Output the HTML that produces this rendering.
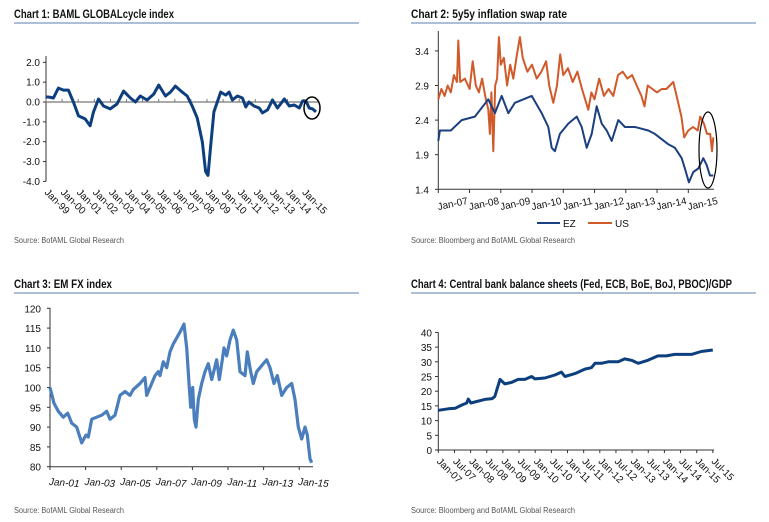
<!DOCTYPE html>
<html><head><meta charset="utf-8"><style>
html,body{margin:0;padding:0;background:#fff}
svg{display:block;font-family:"Liberation Sans",sans-serif}
.t{font-weight:bold;font-size:12px;fill:#111}
.src{font-size:8px;fill:#555}
.tk{font-size:10px;fill:#111}
</style></head><body>
<svg id="s" width="769" height="522" viewBox="0 0 769 522">
<text class="t" x="14" y="18" textLength="160" lengthAdjust="spacingAndGlyphs">Chart 1: BAML GLOBALcycle index</text>
<line x1="14" y1="23" x2="359" y2="23" stroke="#5b7fb0" stroke-width="1"/>
<text class="src" x="14" y="243" textLength="110" lengthAdjust="spacingAndGlyphs">Source: BofAML Global Research</text>
<text class="t" x="411" y="18" textLength="156" lengthAdjust="spacingAndGlyphs">Chart 2: 5y5y inflation swap rate</text>
<line x1="411" y1="23" x2="756" y2="23" stroke="#5b7fb0" stroke-width="1"/>
<text class="src" x="411" y="243" textLength="164" lengthAdjust="spacingAndGlyphs">Source: Bloomberg and BofAML Global Research</text>
<text class="t" x="14" y="288" textLength="98" lengthAdjust="spacingAndGlyphs">Chart 3: EM FX index</text>
<line x1="14" y1="293" x2="359" y2="293" stroke="#5b7fb0" stroke-width="1"/>
<text class="src" x="14" y="513" textLength="110" lengthAdjust="spacingAndGlyphs">Source: BofAML Global Research</text>
<text class="t" x="411" y="288" textLength="321" lengthAdjust="spacingAndGlyphs">Chart 4: Central bank balance sheets (Fed, ECB, BoE, BoJ, PBOC)/GDP</text>
<line x1="411" y1="293" x2="756" y2="293" stroke="#5b7fb0" stroke-width="1"/>
<text class="src" x="411" y="513" textLength="164" lengthAdjust="spacingAndGlyphs">Source: Bloomberg and BofAML Global Research</text>
</svg>
<script>
// Chart 1 data
const c1Years=[1999.0,1999.15,1999.46,1999.77,2000.08,2000.39,2000.70,2001.02,2001.43,2001.74,2001.95,2002.26,2002.57,2002.99,2003.41,2003.82,2004.24,2004.55,2004.86,2005.28,2005.69,2006.00,2006.42,2006.73,2007.04,2007.46,2007.77,2008.08,2008.39,2008.71,2008.91,2009.06,2009.22,2009.43,2009.64,2009.85,2010.16,2010.37,2010.58,2010.89,2011.20,2011.41,2011.61,2011.92,2012.24,2012.45,2012.76,2013.07,2013.38,2013.80,2014.11,2014.42,2014.73,2014.94,2015.15,2015.35,2015.56,2015.77];
const c1Values=[0.25,0.25,0.2,0.7,0.6,0.6,0.0,-0.7,-0.85,-1.2,-0.5,0.15,-0.2,-0.35,-0.1,0.55,0.2,0.0,0.3,0.1,0.4,0.85,0.3,0.5,0.8,0.5,0.3,-0.2,-0.8,-2.0,-3.5,-3.7,-2.3,-0.5,0.0,0.5,0.35,0.5,0.1,0.3,0.2,-0.25,0.0,-0.2,-0.3,-0.55,-0.4,0.1,-0.3,0.15,-0.2,-0.15,-0.3,0.05,0.05,-0.3,-0.35,-0.5];
const c1YTicks=[2,1,0,-1,-2,-3,-4];
const c1YLabels=["2.0","1.0","0.0","-1.0","-2.0","-3.0","-4.0"];
const c1XLabels=["Jan-99","Jan-00","Jan-01","Jan-02","Jan-03","Jan-04","Jan-05","Jan-06","Jan-07","Jan-08","Jan-09","Jan-10","Jan-11","Jan-12","Jan-13","Jan-14","Jan-15"];
// Chart 2 data
const c2UsYears=[2007.0,2007.1,2007.2,2007.3,2007.4,2007.5,2007.6,2007.64,2007.7,2007.85,2008.0,2008.1,2008.2,2008.3,2008.4,2008.5,2008.6,2008.65,2008.7,2008.76,2008.82,2008.88,2008.94,2009.0,2009.1,2009.2,2009.3,2009.4,2009.5,2009.61,2009.7,2009.85,2010.0,2010.15,2010.3,2010.45,2010.55,2010.68,2010.8,2010.9,2011.0,2011.15,2011.3,2011.45,2011.6,2011.8,2011.9,2012.0,2012.15,2012.3,2012.45,2012.6,2012.75,2012.9,2013.05,2013.2,2013.35,2013.5,2013.6,2013.7,2013.85,2014.0,2014.15,2014.3,2014.52,2014.65,2014.78,2014.87,2015.0,2015.15,2015.3,2015.38,2015.5,2015.6,2015.7,2015.76,2015.8];
const c2UsValues=[2.7,2.85,2.75,2.9,2.8,3.05,2.95,3.55,2.95,3.0,2.85,3.25,2.9,2.8,3.0,2.75,2.55,2.2,2.8,1.95,2.9,3.0,3.6,3.2,3.3,2.9,3.2,3.0,3.3,3.6,3.3,3.1,3.2,3.0,3.1,3.25,2.9,2.65,2.9,3.35,3.05,3.15,2.95,3.1,2.85,2.55,2.8,2.7,3.0,2.75,2.85,2.75,3.05,3.1,3.0,3.05,2.9,2.75,2.6,2.9,2.85,2.8,2.85,2.85,2.95,2.7,2.45,2.15,2.25,2.3,2.25,2.45,2.35,2.2,2.2,1.95,2.15];
const c2EzYears=[2007.0,2007.05,2007.4,2007.75,2008.17,2008.6,2008.81,2009.03,2009.24,2009.45,2009.99,2010.31,2010.52,2010.63,2010.73,2010.89,2011.16,2011.43,2011.59,2011.75,2011.91,2012.07,2012.23,2012.39,2012.55,2012.76,2012.97,2013.29,2013.72,2013.93,2014.36,2014.57,2014.79,2014.89,2015.02,2015.16,2015.32,2015.48,2015.59,2015.69,2015.8];
const c2EzValues=[2.1,2.25,2.25,2.4,2.45,2.7,2.5,2.75,2.5,2.65,2.75,2.5,2.3,2.0,1.95,2.2,2.35,2.45,2.3,2.0,2.2,2.6,2.35,2.25,2.1,2.4,2.3,2.3,2.25,2.2,2.05,2.0,1.85,1.7,1.5,1.65,1.7,1.85,1.75,1.6,1.6];
const c2YTicks=[3.4,2.9,2.4,1.9,1.4];
const c2XLabels=["Jan-07","Jan-08","Jan-09","Jan-10","Jan-11","Jan-12","Jan-13","Jan-14","Jan-15"];
// Chart 3 data
const c3Zx=[150,162,175,190,203,215,230,245,258,265,275,290,305,320,330,345,360,375,390,400,420,435,440,455,465,475,480,490,500,510,520,540,552,560,568,572,578,583,588,595,605,615,625,635,650,658,665,672,680,690,700,710,720,735,742,752,760,770,790,800,810,822,832,845,860,875,885,895,905,915,922,930,935];
const c3Values=[100,96,94,92.5,93.5,91,90,86,88,87.5,92,92.5,93,94,92,93,98,99,98,99.5,101,102.5,98,101,103,104,103,106.5,105,109,111,114,116,110,100,95,100,92,90,97,101,104,106,102,107,102,106,110,108,112,114.5,112,104,103,109,104,101,104,106,107,105,101,103,98,100,101,97,90,87,90,88,82,81];
const c3Years=c3Zx.map(z=>2001+(z-150)/53.4);
const c3YTicks=[120,115,110,105,100,95,90,85,80];
const c3XLabels=["Jan-01","Jan-03","Jan-05","Jan-07","Jan-09","Jan-11","Jan-13","Jan-15"];
// Chart 4 data
const c4Years=[2007.0,2007.31,2007.52,2007.73,2007.88,2007.93,2008.01,2008.44,2008.67,2008.75,2008.91,2009.06,2009.27,2009.47,2009.68,2009.89,2009.99,2010.3,2010.61,2010.81,2010.92,2011.23,2011.54,2011.74,2011.85,2012.05,2012.26,2012.57,2012.77,2012.98,2013.19,2013.49,2013.8,2014.06,2014.32,2014.63,2014.84,2015.14,2015.5];
const c4Values=[13.5,14,14.2,15.3,16,17.3,16,17.2,17.5,18.2,24,22.5,23,24,24,25,24.2,24.5,25.5,26.5,25,26,27.5,28,29.5,29.5,30,30,31,30.5,29.5,30.5,32,32,32.5,32.5,32.5,33.5,34];
const c4YTicks=[40,35,30,25,20,15,10,5,0];
const c4XLabels=["Jan-07","Jul-07","Jan-08","Jul-08","Jan-09","Jul-09","Jan-10","Jul-10","Jan-11","Jul-11","Jan-12","Jul-12","Jan-13","Jul-13","Jan-14","Jul-14","Jan-15","Jul-15"];

const svg=document.getElementById('s');
const NS='http://www.w3.org/2000/svg';
function mk(tag,attrs,parent){const e=document.createElementNS(NS,tag);for(const k in attrs)e.setAttribute(k,attrs[k]);(parent||svg).appendChild(e);return e;}
function pathD(xs,ys,sx,sy){return xs.map((x,i)=>(i?'L':'M')+sx(x).toFixed(1)+','+sy(ys[i]).toFixed(1)).join('');}

// ---- Chart 1
const x1=y=>46+(y-1999)*16.1, y1=v=>102-v*19.85;
let e;
e=mk('line',{x1:46,y1:56,x2:46,y2:y1(-4),stroke:'#333','stroke-width':1});


e=mk('line',{x1:46,y1:y1(0),x2:318,y2:y1(0),stroke:'#777','stroke-width':1.2});


c1YTicks.forEach((t,i)=>{
  mk('line',{x1:43,y1:y1(t),x2:46,y2:y1(t),stroke:'#333'});
  e=mk('text',{x:40,y:y1(t)+3.5,'text-anchor':'end',class:'tk'});e.textContent=c1YLabels[i];
  
  
});
c1XLabels.forEach((l,i)=>{
  const xx=x1(1999+i);
  mk('line',{x1:xx,y1:y1(0),x2:xx,y2:y1(0)-3,stroke:'#777'});
  e=mk('text',{x:0,y:0,class:'tk',transform:`translate(${xx-2},${193}) rotate(45)`});e.textContent=l;
  
  
});
e=mk('path',{d:pathD(c1Years,c1Values,x1,y1),fill:'none',stroke:'#0d3f7f','stroke-width':3,'stroke-linejoin':'round'});


e=mk('ellipse',{cx:312,cy:108,rx:8,ry:11,fill:'none',stroke:'#000','stroke-width':1.5});



// ---- Chart 2
const x2=y=>438.3+(y-2007)*31.25, y2=v=>189.3-(v-1.4)*69.2;
e=mk('line',{x1:438.3,y1:31,x2:438.3,y2:189.3,stroke:'#333'});


e=mk('line',{x1:438.3,y1:189.3,x2:714,y2:189.3,stroke:'#333'});


c2YTicks.forEach(t=>{
  mk('line',{x1:435,y1:y2(t),x2:438.3,y2:y2(t),stroke:'#333'});
  e=mk('text',{x:429,y:y2(t)+4,'text-anchor':'end',class:'tk'});e.textContent=t.toFixed(1);
  
  
});
c2XLabels.forEach((l,i)=>{
  const xx=x2(2007+i);
  mk('line',{x1:xx,y1:189.3,x2:xx,y2:193,stroke:'#333'});
  e=mk('text',{x:0,y:0,'text-anchor':'middle',class:'tk',transform:`translate(${xx+15},${207}) rotate(-12)`});e.textContent=l;
  
  
});
e=mk('path',{d:pathD(c2UsYears,c2UsValues,x2,y2),fill:'none',stroke:'#d05a2a','stroke-width':2,'stroke-linejoin':'round'});


e=mk('path',{d:pathD(c2EzYears,c2EzValues,x2,y2),fill:'none',stroke:'#1b3f80','stroke-width':2,'stroke-linejoin':'round'});


e=mk('ellipse',{cx:708,cy:150,rx:9,ry:38,fill:'none',stroke:'#000','stroke-width':1.2});


e=mk('line',{x1:537,y1:223,x2:560,y2:223,stroke:'#1b3f80','stroke-width':2});


e=mk('text',{x:563,y:227,class:'tk'});e.textContent='EZ';


e=mk('line',{x1:588,y1:223,x2:612,y2:223,stroke:'#d05a2a','stroke-width':2});


e=mk('text',{x:615,y:227,class:'tk'});e.textContent='US';



// ---- Chart 3
const x3=y=>50+(y-2001)*17.8, y3=v=>466.7-(v-80)*3.96;
e=mk('line',{x1:50,y1:308,x2:50,y2:466.7,stroke:'#333'});


e=mk('line',{x1:50,y1:466.7,x2:313,y2:466.7,stroke:'#333'});


c3YTicks.forEach(t=>{
  mk('line',{x1:47,y1:y3(t),x2:50,y2:y3(t),stroke:'#333'});
  e=mk('text',{x:41,y:y3(t)+4,'text-anchor':'end',class:'tk'});e.textContent=t;
  
  
});
c3XLabels.forEach((l,i)=>{
  const xx=x3(2001+2*i);
  mk('line',{x1:xx,y1:466.7,x2:xx,y2:470,stroke:'#333'});
  e=mk('text',{x:0,y:0,'text-anchor':'middle',class:'tk','font-style':'italic',transform:`translate(${xx+14},${486}) rotate(4)`});e.textContent=l;
  
  
});
e=mk('path',{d:pathD(c3Years,c3Values,x3,y3),fill:'none',stroke:'#4a7ebd','stroke-width':3.2,'stroke-linejoin':'round'});



// ---- Chart 4
const x4=y=>438.3+(y-2007)*32.3, y4=v=>450-v*2.94;
e=mk('line',{x1:438.3,y1:y4(40),x2:438.3,y2:450,stroke:'#333'});


e=mk('line',{x1:438.3,y1:450,x2:714,y2:450,stroke:'#333'});


c4YTicks.forEach(t=>{
  mk('line',{x1:435,y1:y4(t),x2:438.3,y2:y4(t),stroke:'#333'});
  e=mk('text',{x:432,y:y4(t)+4,'text-anchor':'end',class:'tk'});e.textContent=t;
  
  
});
c4XLabels.forEach((l,i)=>{
  const xx=x4(2007+0.5*i);
  mk('line',{x1:xx,y1:450,x2:xx,y2:453,stroke:'#333'});
  e=mk('text',{x:0,y:0,class:'tk',transform:`translate(${xx-2},${462}) rotate(45)`});e.textContent=l;
  
  
});
e=mk('path',{d:pathD(c4Years,c4Values,x4,y4),fill:'none',stroke:'#0d3f7f','stroke-width':3,'stroke-linejoin':'round'});


</script>
</body></html>
